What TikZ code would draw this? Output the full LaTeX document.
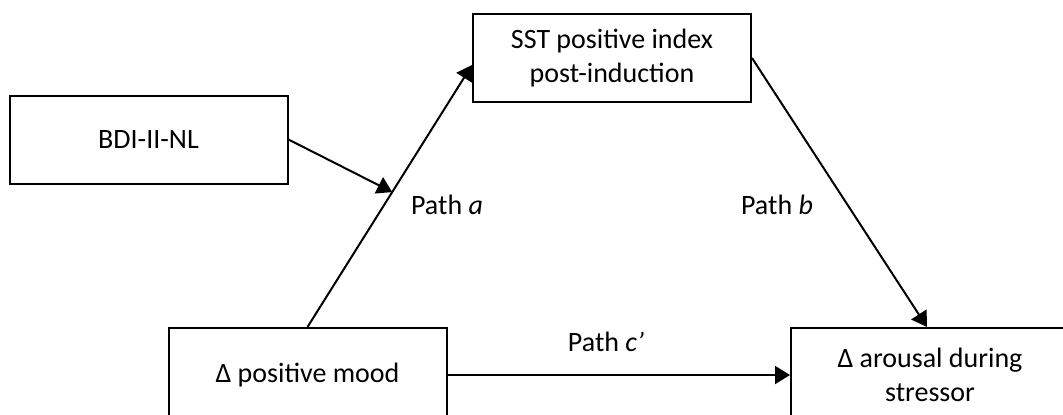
\documentclass[tikz,border=0pt]{standalone}
\usepackage{fontspec}
\setmainfont{Carlito}
\usetikzlibrary{arrows.meta}

\begin{document}
\begin{tikzpicture}[
                x=0.5pt, y=0.5pt,
                font=\fontsize{14pt}{17pt}\selectfont,
                varbox/.style={draw, line width=1pt, rectangle, align=center, minimum width=139pt, minimum height=44pt, inner sep=0pt},
                patharrow/.style={draw, line width=1pt, -{Triangle[length=7.5pt, width=9pt]}},
                pathlabel/.style={inner sep=0pt}
            ]
            \useasboundingbox (0,0) rectangle (1063,414);

            % Variabelen
            \node[varbox] (bdi) at (148.5,274.5) {BDI-II-NL};
            \node[varbox] (sst) at (612,356) {SST positive index\\post-induction};
            \node[varbox, minimum height=47pt] (mood) at (307.5,39) {Δ positive mood};
            \node[varbox, minimum height=47pt] (arousal) at (930,39) {Δ arousal during\\stressor};

            % Paden
            \draw[patharrow] (mood.north) -- ([yshift=-3.5pt]sst.west)
                coordinate[pos=0.515] (moderator);
            \draw[patharrow] (bdi.east) -- (moderator);
            \draw[patharrow] (sst.east) -- ([xshift=-1.5pt]arousal.north);
            \draw[patharrow] (mood.east) -- (arousal.west);

            % Labels
            \node[pathlabel] (labela) at (447,209) {Path \textit{a}};
            \node[pathlabel] (labelb) at (777,209) {Path \textit{b}};
            \node[pathlabel] (labelc) at (606,72) {Path \textit{c’}};

        \end{tikzpicture}
\end{document}
